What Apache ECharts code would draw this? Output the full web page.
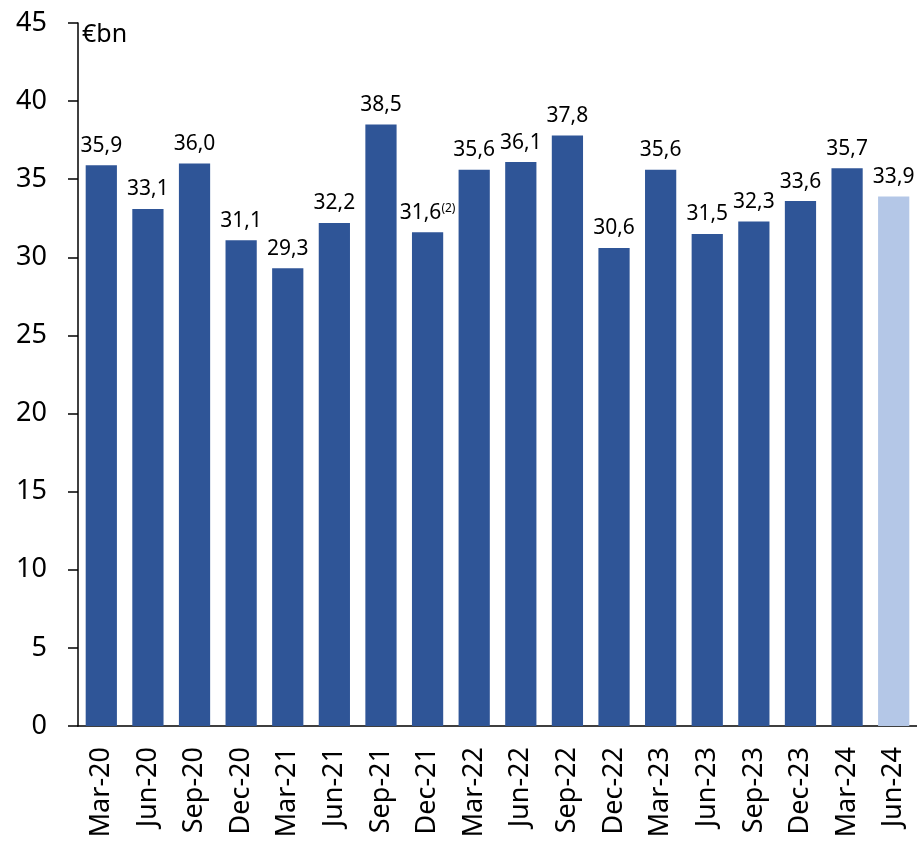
<!DOCTYPE html>
<html><head><meta charset="utf-8">
<script src="https://cdn.jsdelivr.net/npm/echarts@6/dist/echarts.min.js"></script>
<style>html,body{margin:0;padding:0;background:#fff}#c{width:917px;height:841px}</style>
</head><body><div id="c"></div>
<script>
const categories = ['Mar-20','Jun-20','Sep-20','Dec-20','Mar-21','Jun-21','Sep-21','Dec-21','Mar-22','Jun-22','Sep-22','Dec-22','Mar-23','Jun-23','Sep-23','Dec-23','Mar-24','Jun-24'];
const values = [35.9,33.1,36.0,31.1,29.3,32.2,38.5,31.6,35.6,36.1,37.8,30.6,35.6,31.5,32.3,33.6,35.7,33.9];
const footnotes = {'Dec-21':'(2)'};
const highlightCategory = 'Jun-24';
const unitLabel = '€bn';
const FONT = 'Noto Sans';
const chart = echarts.init(document.getElementById('c'));
chart.setOption({
  animation:false,
  textStyle:{fontFamily:FONT,color:'#000'},
  grid:{left:78,right:0,top:23,bottom:115},
  graphic:[{type:'text',left:82,top:22,style:{text:unitLabel,font:'25px "Noto Sans"',fill:'#000'}}],
  xAxis:{type:'category',data:categories,
    axisLine:{lineStyle:{color:'#000',width:1.5}},axisTick:{show:false},
    axisLabel:{rotate:90,margin:21,fontSize:27,color:'#000',fontFamily:FONT}},
  yAxis:{type:'value',min:0,max:45,interval:5,
    axisLine:{show:true,lineStyle:{color:'#000',width:1.5}},
    axisTick:{show:true,length:10,lineStyle:{color:'#000',width:1.5}},
    splitLine:{show:false},
    axisLabel:{margin:31,fontSize:27,color:'#000',fontFamily:FONT}},
  series:[{type:'bar',barCategoryGap:'33%',
    data:values.map((v,i)=>({value:v,itemStyle:{color:categories[i]===highlightCategory?'#B4C7E7':'#2F5597'}})),
    label:{show:true,position:'top',distance:9,color:'#000',fontFamily:FONT,
      formatter:p=>{const t=p.value.toFixed(1).replace('.',',');const f=footnotes[p.name];return f?'{a|'+t+'}{s|'+f+'}':'{a|'+t+'}';},
      rich:{a:{fontSize:21,fontFamily:FONT,color:'#000'},s:{fontSize:12,fontFamily:FONT,color:'#000',verticalAlign:'bottom',padding:[0,0,9,0]}}}
  }]
});
</script></body></html>
